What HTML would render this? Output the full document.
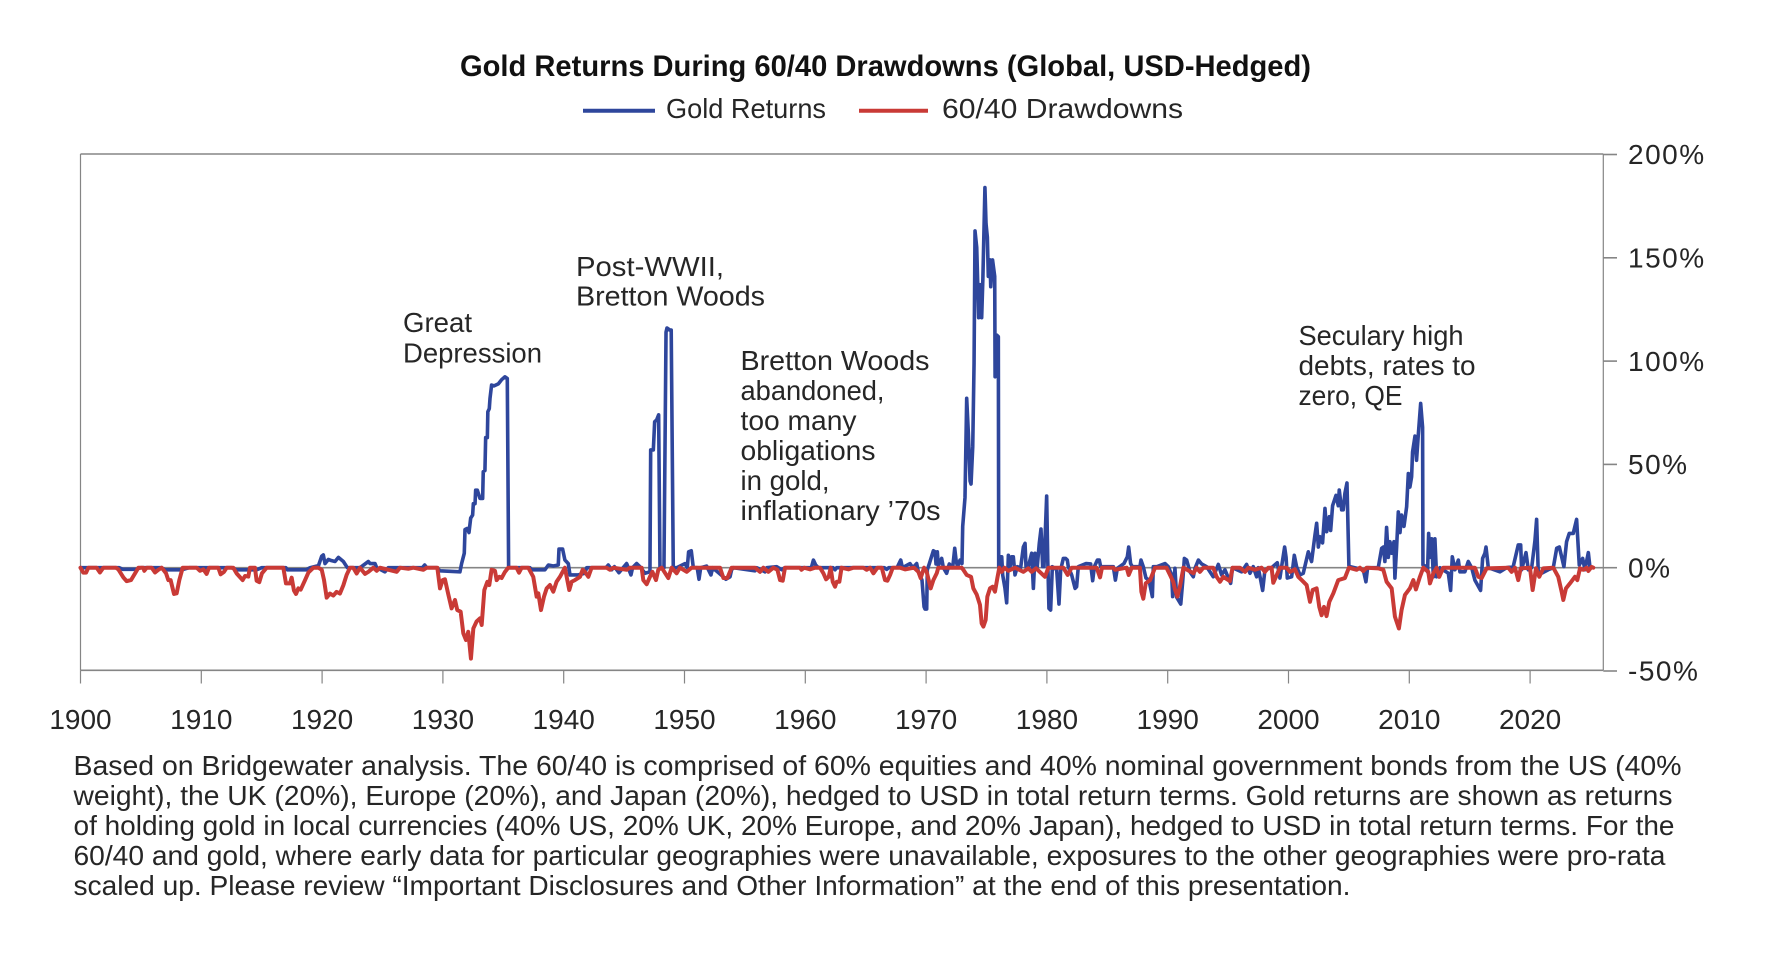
<!DOCTYPE html>
<html lang="en">
<head>
<meta charset="utf-8">
<title>Gold Returns During 60/40 Drawdowns</title>
<style>
html,body{margin:0;padding:0;background:#fff;width:1792px;height:958px;overflow:hidden}
svg{display:block}
text{font-family:"Liberation Sans",sans-serif;fill:#262626;font-size:28px}
.tick{font-size:28px}
</style>
</head>
<body>
<svg id="chart" width="1792" height="958" viewBox="0 0 1792 958" xmlns="http://www.w3.org/2000/svg">
  <rect x="0" y="0" width="1792" height="958" fill="#ffffff"/>
  <text x="460" y="76" font-weight="bold" style="font-size:30px;fill:#111" textLength="851" lengthAdjust="spacingAndGlyphs">Gold Returns During 60/40 Drawdowns (Global, USD-Hedged)</text>

  <g>
    <line x1="583" y1="110.7" x2="655" y2="110.7" stroke="#2e469c" stroke-width="4"/>
    <text x="666" y="118" textLength="160" lengthAdjust="spacingAndGlyphs">Gold Returns</text>
    <line x1="859" y1="110.7" x2="928" y2="110.7" stroke="#c93a36" stroke-width="4"/>
    <text x="942" y="118" textLength="241" lengthAdjust="spacingAndGlyphs">60/40 Drawdowns</text>
  </g>

  <g id="axes"></g>
  <g id="series"></g>

  <g>
    <text x="403" y="332" textLength="69" lengthAdjust="spacingAndGlyphs">Great</text>
    <text x="403" y="362.5" textLength="139" lengthAdjust="spacingAndGlyphs">Depression</text>
    <text x="576" y="276" textLength="148" lengthAdjust="spacingAndGlyphs">Post-WWII,</text>
    <text x="576" y="305.5" textLength="189" lengthAdjust="spacingAndGlyphs">Bretton Woods</text>
    <text x="740.5" y="370" textLength="189" lengthAdjust="spacingAndGlyphs">Bretton Woods</text>
    <text x="740.5" y="400" textLength="144" lengthAdjust="spacingAndGlyphs">abandoned,</text>
    <text x="740.5" y="430" textLength="116" lengthAdjust="spacingAndGlyphs">too many</text>
    <text x="740.5" y="460" textLength="135" lengthAdjust="spacingAndGlyphs">obligations</text>
    <text x="740.5" y="490" textLength="89" lengthAdjust="spacingAndGlyphs">in gold,</text>
    <text x="740.5" y="520" textLength="200" lengthAdjust="spacingAndGlyphs">inflationary ’70s</text>
    <text x="1298.5" y="345" textLength="165" lengthAdjust="spacingAndGlyphs">Seculary high</text>
    <text x="1298.5" y="375" textLength="177" lengthAdjust="spacingAndGlyphs">debts, rates to</text>
    <text x="1298.5" y="405" textLength="104" lengthAdjust="spacingAndGlyphs">zero, QE</text>
  </g>

  <g>
    <text x="73.5" y="775" textLength="1608" lengthAdjust="spacingAndGlyphs">Based on Bridgewater analysis. The 60/40 is comprised of 60% equities and 40% nominal government bonds from the US (40%</text>
    <text x="73.5" y="805" textLength="1599" lengthAdjust="spacingAndGlyphs">weight), the UK (20%), Europe (20%), and Japan (20%), hedged to USD in total return terms. Gold returns are shown as returns</text>
    <text x="73.5" y="835" textLength="1601" lengthAdjust="spacingAndGlyphs">of holding gold in local currencies (40% US, 20% UK, 20% Europe, and 20% Japan), hedged to USD in total return terms. For the</text>
    <text x="73.5" y="865" textLength="1592" lengthAdjust="spacingAndGlyphs">60/40 and gold, where early data for particular geographies were unavailable, exposures to the other geographies were pro-rata</text>
    <text x="73.5" y="895" textLength="1277" lengthAdjust="spacingAndGlyphs">scaled up. Please review “Important Disclosures and Other Information” at the end of this presentation.</text>
  </g>
</svg>
<script>
const xTickYears = [1900,1910,1920,1930,1940,1950,1960,1970,1980,1990,2000,2010,2020];
const yTickValues = [200,150,100,50,0,-50];

const goldYears = [
1900,1903.2,1903.5,1904.6,1905,1906.7,1907,1908.4,
1909,1912.5,1912.9,1914.6,1915,1917,1917.1,1918.7,
1919,1919.7,1919.97,1920.1,1920.24,1920.52,1920.79,1921.07,
1921.35,1921.76,1922.09,1923.14,1923.83,1923.97,1924.38,1924.52,
1925.2,1925.48,1928.3,1928.49,1928.66,1929.49,1929.76,1931.41,1931.55,
1931.77,1931.83,1932.02,1932.16,1932.3,1932.46,1932.52,1932.66,
1932.71,1932.85,1933.07,1933.29,1933.34,1933.48,1933.54,1933.68,
1933.72,1933.84,1933.9,1934.03,1934.23,1934.59,1934.86,1935.14,
1935.33,1935.44,1937.2,1937.35,1938.45,1938.73,1939.14,1939.55,
1939.61,1939.91,1940.1,1940.38,1940.52,1941.21,1941.76,1941.9,
1943.5,1943.69,1943.97,1944.2,1944.57,1945.21,1945.57,1945.7,1946.04,
1946.31,1946.73,1947.14,1947.2,1947.42,1947.53,1947.69,1947.86,
1947.97,1948.3,1948.47,1948.55,1948.8,1948.9,1949.07,1949.35,
1950.04,1950.23,1950.34,1950.56,1950.73,1951.05,1951.2,1951.34,
1951.83,1952.19,1952.33,1953.21,1953.43,1953.77,1953.9,1954.05,
1955.84,1955.98,1956.67,1956.81,1957.63,1958.05,1958.3,1960.5,1960.67,
1960.86,1961.08,1962.3,1962.46,1962.6,1966.55,1966.74,1966.9,1967.6,1967.7,1967.9,1968.04,
1968.67,1968.9,1969.22,1969.36,1969.66,1969.83,1969.91,1970.05,
1970.1,1970.27,1970.6,1970.74,1970.82,1970.93,1971.01,1971.29,
1971.43,1971.7,1971.92,1972.2,1972.37,1972.48,1972.6,1972.81,
1972.97,1973.03,1973.22,1973.36,1973.5,1973.64,1973.72,1973.86,
1973.97,1974.05,1974.19,1974.35,1974.46,1974.6,1974.7,1974.87,
1974.96,1975.07,1975.15,1975.29,1975.35,1975.5,1975.68,1975.71,
1975.84,1975.98,1976.01,1976.12,1976.26,1976.34,1976.53,1976.67,
1976.81,1976.95,1977.08,1977.22,1977.36,1977.55,1977.83,1978.05,
1978.19,1978.27,1978.46,1978.74,1978.88,1979.02,1979.2,1979.37,
1979.51,1979.65,1979.76,1979.98,1980.07,1980.17,1980.31,1980.45,
1980.81,1981,1981.14,1981.36,1981.55,1981.69,1981.77,1982.05,
1982.33,1982.46,1982.6,1983.24,1983.62,1983.79,1983.93,1984.18,
1984.34,1984.45,1985.5,1985.67,1985.83,1986.38,1986.66,1986.77,
1986.93,1987.07,1987.7,1987.79,1987.98,1988.2,1988.45,1988.73,
1988.81,1989.1,1989.78,1990.05,1990.33,1990.41,1990.6,1990.74,
1991.08,1991.24,1991.38,1991.57,1991.84,1992.12,1992.26,1992.54,
1992.81,1993.22,1993.77,1994.19,1994.46,1994.74,1995.21,1995.37,
1996.12,1996.53,1996.81,1997.08,1997.36,1997.5,1997.86,1998.05,
1998.6,1999.07,1999.29,1999.43,1999.68,1999.8,1999.9,2000.26,
2000.48,2000.67,2000.95,2001.22,2001.64,2001.91,2002.19,2002.33,
2002.47,2002.6,2002.82,2003.02,2003.16,2003.38,2003.49,2003.65,
2003.93,2004.12,2004.2,2004.4,2004.53,2004.67,2004.84,2005,
2005.09,2006.19,2006.41,2006.55,2007.43,2007.71,2007.85,2007.98,
2008.12,2008.26,2008.4,2008.54,2008.73,2008.81,2008.95,2009.09,
2009.23,2009.36,2009.56,2009.78,2009.92,2010.05,2010.19,2010.27,
2010.47,2010.6,2010.74,2010.94,2011.1,2011.13,2011.43,2011.51,
2011.6,2011.71,2011.85,2011.99,2012.12,2012.26,2012.54,2013.23,
2013.42,2013.56,2013.78,2014.06,2014.19,2014.6,2014.88,2015.16,
2015.43,2015.9,2016.07,2016.26,2016.35,2016.54,2017.5,2018.05,
2018.6,2019.02,2019.22,2019.3,2019.66,2019.85,2020.13,2020.4,
2020.54,2020.68,2020.95,2021.5,2021.92,2022.2,2022.42,2022.61,
2022.8,2023.02,2023.24,2023.57,2023.85,2024.07,2024.35,2024.54,
2024.82,2024.96,2025.23
];
const goldReturns = [
0,0,-0.8,-0.8,0,0,-1,-1,
0,0,-1,-1,0,0,-1,-1,
0,1,5.6,6.2,2,4,3.4,3,
5,3,0,0,3,2,2,0,
-2,0,0,1.3,0,0,-1.5,-2,2,
7,18.5,19,17,24,25.5,31,31,
37.5,37.5,33.5,33.5,46.5,47,63,63,
75.5,77,82,88.4,88,89,91,92.4,
91.6,0,0,-1,-1,1.3,0.8,1.3,
9,9,3.7,2,-3.5,-3.5,-2.7,0,
0,1.3,-1,0.5,-2.4,2,-3.5,0,2,
0.5,-2.7,-2,57,57,70.6,71.5,74,
0,0,114,116,115,115,0,0,
2,0,7.7,8.2,0,0,-5.6,0,
0.8,-3.5,0,-4.4,-5.6,-4.4,-1,0,
-1.5,0,-2,0,0.5,-1,0,0,3.7,
1.3,0,0,-1,0,0,-0.8,0,0,1.3,3.7,0,
2,0,2,-2,-6,-18.9,-20,-20,
-1,2,8.2,7.7,1.8,7.7,1,4.5,
0,-2.7,1.8,0,9.4,3.7,0.5,3.7,
2,20,34,82,65,42,40.5,58.5,
99,163,155,121,137,121,140,184,
166.6,160,141,149,136,149,141,92.4,
112.6,111.8,0.5,5.3,5.3,-3.5,-10,-17,
6,0.5,5.3,5.3,-3.5,0.5,0,10,
11.8,0.5,0.5,7,-10,7,0.5,11.8,
18.7,0.5,0.5,34.7,3.7,-19.7,-20.5,0.5,
-1,-17.6,-1,4.5,4.5,3.7,0.5,-3.5,
-10,-9.2,0.5,2,1.8,-6.3,0.5,3.7,
3.7,0.5,0.5,-6,-0.3,2,5.3,10,
2,0.5,0.5,3.7,0.5,-5,-6,-14,
0.5,0.5,2,0.5,-3.5,-14,-0.3,-14.3,
-17.6,-6.8,4.5,3.7,-2,-4.4,-0.3,3.7,
1.8,0.5,-4.4,1.6,-3.5,-1,-7.6,0,
-2,1.6,-2.7,0.5,-4.4,0,-11,-1,
0,2.4,-5,0.5,10,5,-5,-4.4,
6,0.5,-3.5,-2.7,7.7,3,15.8,21.5,
10,15,12,28.7,17.4,24.7,18,30,
35,30,37.6,28,28,36,41,1,
0.5,-1,-6.8,0,0,9.4,10,3,
19.5,5,12.6,7,12.6,-5,10,27,
17,25.5,20,29.5,45.6,39,44,56,
63.7,52,64,79.5,68,1.3,0.5,-2,
16.6,5,14,-4.4,14,-4.4,0,-2.7,
-11,5.3,-1,3.7,-2,-2,3,0,
-6,-11,4.5,7,10,0,-2,0,
0.5,11,11,-1,7.3,-1,0,13,
23.4,-3.5,-2.7,-1,0,9.4,10,5.3,
0.5,12.6,16.6,16.6,23.4,1.3,4.5,-1,
7.3,0,0
];

const drawdownYears = [
1900,1900.23,1900.46,1900.65,1901.34,1901.61,1901.89,1902.94,
1903.13,1903.55,1903.82,1904.18,1904.51,1904.79,1905.2,1905.28,
1905.48,1905.89,1906.17,1906.44,1906.72,1907.08,1907.27,1907.46,
1907.74,1907.96,1908.18,1908.46,1909.62,1909.89,1910.17,1910.44,
1910.64,1911.41,1911.6,1911.88,1912.1,1912.65,1912.93,1913.42,
1913.62,1913.89,1914.03,1914.44,1914.58,1914.8,1915.02,1915.41,
1916.79,1917.01,1917.34,1917.48,1917.67,1917.84,1918.03,1918.23,
1918.59,1918.87,1919.28,1919.69,1919.97,1920.16,1920.38,1920.65,
1920.93,1921.2,1921.48,1921.76,1922.03,1922.31,1922.58,1922.86,
1923.14,1923.55,1923.83,1924.24,1924.52,1924.79,1926.17,1926.45,
1927.14,1927.55,1928.38,1928.66,1929.54,1929.76,1929.98,1930.17,
1930.45,1930.72,1931,1931.19,1931.47,1931.69,1931.91,1932.1,
1932.32,1932.52,1932.79,1933.07,1933.21,1933.43,1933.68,1933.84,
1934.03,1934.31,1934.45,1934.67,1934.86,1935.14,1935.41,1936.1,
1936.3,1936.52,1937.07,1937.48,1937.76,1937.9,1938.12,1938.37,
1938.59,1938.86,1939.14,1939.41,1939.69,1940.1,1940.3,1940.46,
1940.66,1940.93,1941.35,1941.57,1941.76,1942.04,1942.31,1943.55,
1943.83,1944.1,1945.21,1945.48,1946.45,1946.59,1946.87,1947.14,
1947.34,1947.64,1947.83,1948.11,1948.66,1948.94,1949.35,1949.62,
1950.18,1950.59,1952.94,1953.22,1953.55,1953.9,1955.84,1956.25,
1956.53,1956.94,1957.36,1957.69,1957.91,1958.13,1958.32,1959.56,
1959.68,1959.9,1960.39,1960.8,1961.22,1961.5,1961.72,1961.94,
1962.1,1962.27,1962.46,1962.6,1962.82,1963,1963.57,1963.98,
1964.81,1965.08,1965.36,1965.64,1965.97,1966.33,1966.6,1966.8,
1967.02,1967.24,1967.84,1968.26,1969,1969.36,1969.55,1969.83,
1970.05,1970.38,1970.6,1970.88,1971.01,1972.94,1973.08,1973.36,
1973.72,1973.91,1974.19,1974.46,1974.6,1974.74,1974.93,1975.07,
1975.29,1975.51,1975.7,1975.9,1976.06,1976.26,1976.48,1976.81,
1977.36,1978.05,1978.46,1978.74,1979.1,1979.84,1980.12,1981.36,
1981.72,1982.05,1984.12,1984.4,1984.56,1985.5,1985.64,1986.6,
1986.77,1987.02,1987.7,1987.82,1987.98,1988.18,1988.54,1988.95,
1989.9,1990.19,1990.47,1990.6,1990.8,1991.02,1991.3,1992.13,
1992.4,1992.67,1992.95,1993.77,1994.05,1994.33,1994.6,1995.15,
1995.37,1995.98,1996.4,1996.67,1997.22,1997.77,1998.05,1998.33,
1998.6,1998.74,1998.96,1999.29,1999.84,2000.12,2000.53,2000.81,
2001.09,2001.5,2001.78,2002,2002.33,2002.55,2002.74,2002.94,
2003.15,2003.38,2003.71,2004.12,2004.67,2005,2005.64,2005.91,
2006.19,2006.47,2007.43,2007.85,2008.12,2008.54,2008.81,2009.14,
2009.36,2009.64,2010.05,2010.33,2010.55,2010.88,2011.16,2011.57,
2011.71,2011.99,2012.26,2012.48,2012.81,2015.43,2015.71,2015.99,
2016.4,2018.2,2018.47,2018.75,2019.02,2019.22,2019.99,2020.21,
2020.49,2020.76,2021.09,2021.92,2022.33,2022.61,2022.75,2022.97,
2023.3,2023.71,2023.91,2024.13,2024.4,2024.68,2024.82,2025.09,
2025.23
];
const drawdownValues = [
0,-2.4,-2.4,0,0,-2.3,0,0,
-0.8,-4.7,-6.5,-6,-2.8,0,0,-1.5,
0,0,-2.3,-1,0,-2.7,-6,-6,
-12.7,-12.4,-6,0,0,-1.5,-0.8,-3,
0,0,-3.2,-2,0,0,-2.8,-6,
-4,-4.3,0,0,-6.3,-7,-2.7,0,
0,-7.6,-7.6,-4.8,-11,-12.7,-10,-10.6,
-6,-2.3,0,0,-1,-6,-14.5,-12.5,
-13.5,-11.7,-12.5,-8.5,-3.5,0,0,-2.8,
0,-3,-2,0,-1.5,0,-2,0,
-0.5,0,-1,0,0,-10,-6,-5.6,
-13,-19.7,-15.6,-20.5,-21.3,-31.8,-35,-31,
-44,-29.4,-26,-24.5,-27.7,-10.8,-6.8,-8.4,
-1,-1.5,-6,-4.4,-5,-2,0,0,
-2.4,0,0,-4.4,-14,-12.4,-20.5,-14,
-10,-8.4,-11.6,-6.8,-4.4,0,-6,-10.8,
-6.8,-6,-4.4,-1,-2,-4.4,0,0,
-1,0,-1,0,0,-6,-8,-4.4,
-2,-6,-1,0,-5,0,-2.7,0,
-2,0,0,-5,-5,0,0,-2,
0,-2,0,-1,-6,-6.3,0,0,
-1,0,-0.8,0,0,-2.7,-5.6,-4.4,
0,-6.8,-9.2,-6.8,-6.8,0,-0.8,0,
0,-1,0,-2.7,0,0,-6,-6.3,
-3.5,0,0,-0.8,0,-2,-5,0,
-2,-10,-6,-2.7,0,0,-1,-3.5,
-4.4,-10,-13,-18,-27,-28.5,-25.3,-14,
-10,-9.2,-11.6,-5,0,-2,0,-1.5,
0,-2,-0.3,-2,-0.3,-4.4,0,0,
-3.5,0,0,-4.7,0,0,-1,0,
-3.5,0,0,-11.6,-15,-7.6,-6,0,
0,-3.5,-7,-10.5,-14,-9,0,-2.7,
0,-2,0,0,-4.4,-6.8,-4.4,-6.5,
0,0,-2,0,-1,0,-2,0,
0,-7.3,-4.4,0,0,-2,-0.8,-4.4,
-6,-8.4,-16.5,-10.8,-10,-19,-23,-19,
-23.4,-16.5,-12.4,-6,-5,0,-1,0,
-1.6,0,-0.3,-1,-6.8,-10,-23.7,-29.4,
-20.5,-13.2,-10,-6,-10.5,-4.4,0,-2,
-7.6,-2.7,0,-4.4,0,0,-4.4,-5,
-0.3,0,-2,0,-6,-0.3,0,-10.8,
-0.3,-4.4,-0.3,0,-4.4,-11.6,-15.6,-10,
-7.6,-4.4,-6,-0.3,-1,0,-1.6,0.4,
0
];

const SVGNS = 'http://www.w3.org/2000/svg';
const plotLeft = 80.5, plotRight = 1603.3, plotTop = 154, plotBottom = 670.3;
function xScale(year) { return plotLeft + (year - 1900) * 12.08; }
function yScale(pct) { return 567.7 - pct * 2.066; }

function make(tag, attrs, parent) {
  const el = document.createElementNS(SVGNS, tag);
  for (const k in attrs) el.setAttribute(k, attrs[k]);
  parent.appendChild(el);
  return el;
}
function seriesPath(xs, ys) {
  let d = '';
  const n = Math.min(xs.length, ys.length);
  for (let i = 0; i < n; i++) {
    d += (i ? 'L' : 'M') + xScale(xs[i]).toFixed(2) + ' ' + yScale(ys[i]).toFixed(2);
  }
  return d;
}

const axes = document.getElementById('axes');
const seriesGroup = document.getElementById('series');

const frameTop = make('line', {x1: plotLeft, y1: plotTop, x2: plotRight, y2: plotTop, stroke: '#858585', 'stroke-width': 1.6}, axes);


const frameLeft = make('line', {x1: plotLeft, y1: plotTop, x2: plotLeft, y2: plotBottom, stroke: '#858585', 'stroke-width': 1.2}, axes);


const frameRight = make('line', {x1: plotRight, y1: plotTop, x2: plotRight, y2: plotBottom, stroke: '#858585', 'stroke-width': 1.2}, axes);


const frameBottom = make('line', {x1: plotLeft, y1: plotBottom, x2: plotRight, y2: plotBottom, stroke: '#858585', 'stroke-width': 1.6}, axes);


const zeroLine = make('line', {x1: plotLeft, y1: yScale(0), x2: plotRight, y2: yScale(0), stroke: '#858585', 'stroke-width': 1.6}, axes);



xTickYears.forEach(function (yr) {
  const tick = make('line', {x1: xScale(yr), y1: plotBottom, x2: xScale(yr), y2: 683.5, stroke: '#858585', 'stroke-width': 1.2}, axes);
  
  
  const label = make('text', {x: xScale(yr), y: 729, 'text-anchor': 'middle', 'class': 'tick'}, axes);
  
  
  label.textContent = String(yr);
});

yTickValues.forEach(function (v) {
  const tick = make('line', {x1: plotRight, y1: yScale(v), x2: 1617, y2: yScale(v), stroke: '#858585', 'stroke-width': 1.6}, axes);
  
  
  const label = make('text', {x: 1628, y: yScale(v) + 9.7, 'class': 'tick', 'letter-spacing': '1.5'}, axes);
  
  
  label.textContent = v + '%';
});

const goldLine = make('path', {d: seriesPath(goldYears, goldReturns), fill: 'none', stroke: '#2e469c', 'stroke-width': 3.6, 'stroke-linejoin': 'round', 'stroke-linecap': 'round'}, seriesGroup);


const drawdownLine = make('path', {d: seriesPath(drawdownYears, drawdownValues), fill: 'none', stroke: '#c93a36', 'stroke-width': 4, 'stroke-linejoin': 'round', 'stroke-linecap': 'round'}, seriesGroup);


</script>
</body>
</html>
